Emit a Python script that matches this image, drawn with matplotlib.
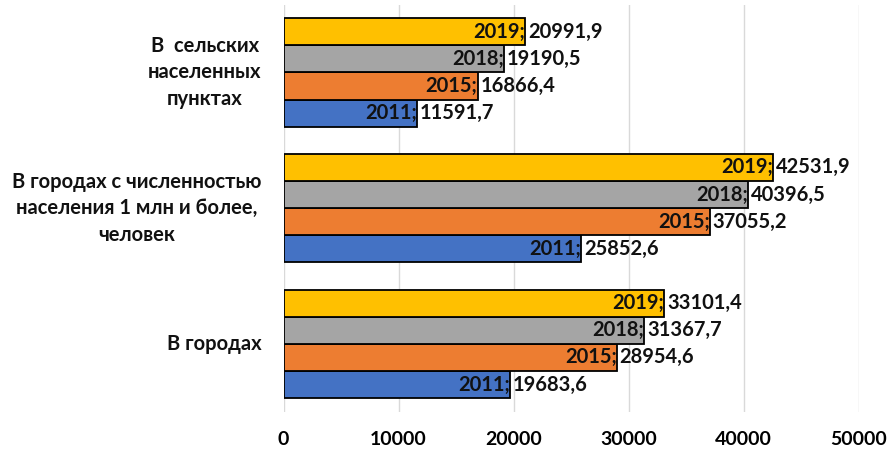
import matplotlib
matplotlib.use("Agg")
import matplotlib.pyplot as plt
import numpy as np

categories = ["В городах", "В городах с численностью\nнаселения 1 млн и более,\nчеловек", "В  сельских\nнаселенных\nпунктах"]
years = ["2011", "2015", "2018", "2019"]
values_2011 = [19683.6, 25852.6, 11591.7]
values_2015 = [28954.6, 37055.2, 16866.4]
values_2018 = [31367.7, 40396.5, 19190.5]
values_2019 = [33101.4, 42531.9, 20991.9]
series = [values_2011, values_2015, values_2018, values_2019]
colors = ["#4472C4", "#ED7D31", "#A5A5A5", "#FFC000"]
xticks = [0, 10000, 20000, 30000, 40000, 50000]

plt.rcParams['font.family'] = ['Lato', 'DejaVu Sans']
fig = plt.figure(figsize=(8.89, 4.5), dpi=100)
ax = fig.add_axes([0.319, 0.085, 0.647, 0.905])

fs = 14.5
y = np.arange(len(categories))
h = 0.2
for i, (yr, vals, c) in enumerate(zip(years, series, colors)):
    pos = y + (i - 1.5) * h
    ax.barh(pos, vals, height=h, color=c, edgecolor="black", linewidth=1.3, zorder=3)
    for p, v in zip(pos, vals):
        ax.text(v, p, f"{yr};", ha="right", va="center", fontsize=fs, fontweight="bold", color="#111111", zorder=4)
        ax.annotate(f"{v:.1f}".replace(".", ","), (v, p), xytext=(2, 0), textcoords="offset points",
                    ha="left", va="center", fontsize=fs, fontweight="bold", color="#111111", zorder=4)

ax.set_xlim(0, 50000)
ax.set_ylim(-0.5, 2.5)
ax.set_xticks(xticks)
ax.set_xticklabels([str(t) for t in xticks], fontsize=14, fontweight="bold")
ax.set_yticks(y)
ax.set_yticklabels([])
for yi, cat in zip(y, categories):
    ax.annotate(cat, (0, yi), xycoords=("axes fraction", "data"), xytext=(-16, 0), textcoords="offset points",
                ha="right", va="center", multialignment="center", linespacing=1.4,
                fontsize=14.5, fontweight="bold", color="#111111")
ax.tick_params(axis="both", length=0)
ax.tick_params(axis="x", pad=14)
ax.grid(axis="x", color="#d9d9d9", linewidth=1, zorder=0)
for s in ax.spines.values():
    s.set_visible(False)

fig.savefig("out.png", dpi=100)
